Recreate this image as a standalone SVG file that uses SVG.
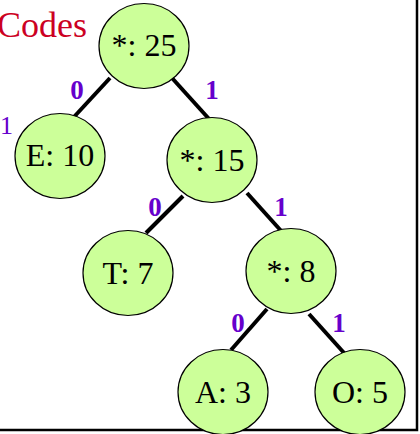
<svg xmlns="http://www.w3.org/2000/svg" width="420" height="434" viewBox="0 0 420 434">
  <style>
    .node ellipse { fill: #ccff99; stroke: #000; stroke-width: 1.2; }
    .node text { font-family: "Liberation Serif", "Times New Roman", serif; font-size: 32px; fill: #000; text-anchor: middle; }
    .edge { stroke: #000; stroke-width: 4; fill: none; }
    .bit { font-family: "Liberation Serif", "Times New Roman", serif; font-size: 27px; font-weight: bold; fill: #6600cc; text-anchor: middle; }
    .title { font-family: "Liberation Serif", "Times New Roman", serif; font-size: 36px; fill: #cc0022; }
  </style>
  <rect width="420" height="434" fill="#fff"/>
  <!-- frame -->
  <path d="M417 0 V430 H0" fill="none" stroke="#000" stroke-width="2.5"/>
  <text class="title" x="87" y="37" text-anchor="end">Codes</text>
  <text x="0" y="134" font-family="Liberation Serif, serif" font-size="26" fill="#6600cc">1</text>

  <g id="connectors">
    <line class="edge" x1="110" y1="78" x2="73" y2="118"/>
    <line class="edge" x1="172" y1="78" x2="210" y2="120"/>
    <line class="edge" x1="183" y1="196" x2="146" y2="233"/>
    <line class="edge" x1="247" y1="193" x2="283" y2="233"/>
    <line class="edge" x1="267" y1="309" x2="231" y2="350"/>
    <line class="edge" x1="309" y1="314" x2="345" y2="354"/>
    <text class="bit" x="77" y="99">0</text>
    <text class="bit" x="212" y="99">1</text>
    <text class="bit" x="155" y="216">0</text>
    <text class="bit" x="281" y="216">1</text>
    <text class="bit" x="238" y="332">0</text>
    <text class="bit" x="339" y="332">1</text>
  </g>

  <g id="n-root" class="node">
    <ellipse cx="144" cy="46" rx="45" ry="42.5"/>
    <text x="144" y="56">*: 25</text>
  </g>
  <g id="n-e" class="node">
    <ellipse cx="60" cy="156" rx="45" ry="42.5"/>
    <text x="60" y="166">E: 10</text>
  </g>
  <g id="n-15" class="node">
    <ellipse cx="212" cy="160" rx="45" ry="42.5"/>
    <text x="212" y="171">*: 15</text>
  </g>
  <g id="n-t" class="node">
    <ellipse cx="128" cy="273" rx="45" ry="42.5"/>
    <text x="128" y="284">T: 7</text>
  </g>
  <g id="n-8" class="node">
    <ellipse cx="291" cy="271" rx="45" ry="42.5"/>
    <text x="291" y="282">*: 8</text>
  </g>
  <g id="n-a" class="node">
    <ellipse cx="223" cy="392" rx="45" ry="42.5"/>
    <text x="223" y="403">A: 3</text>
  </g>
  <g id="n-o" class="node">
    <ellipse cx="360" cy="392" rx="45" ry="42.5"/>
    <text x="360" y="403">O: 5</text>
  </g>
</svg>
